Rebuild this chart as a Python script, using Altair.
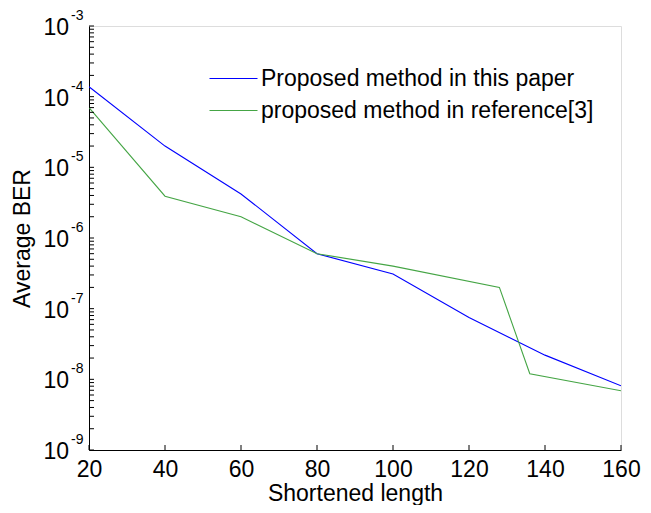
import altair as alt
import pandas as pd

# ---- data ----
x_blue = [20, 40, 60, 80, 100, 120, 140, 160]
ber_blue = [1.38e-4, 2.0e-5, 4.2e-6, 6.0e-7, 3.1e-7, 7.5e-8, 2.2e-8, 8.1e-9]
x_green = [20, 40, 60, 80, 100, 128, 136, 160]
ber_green = [7.0e-5, 3.9e-6, 2.0e-6, 6.0e-7, 4.0e-7, 2.0e-7, 1.2e-8, 6.9e-9]
series_names = ["Proposed method in this paper", "proposed method in reference[3]"]
series_colors = ["#0000FF", "#45A545"]

x_ticks = [20, 40, 60, 80, 100, 120, 140, 160]
y_exponents = [-3, -4, -5, -6, -7, -8, -9]
minor_mantissas = [2, 3, 4, 5, 6, 7, 8, 9]

FONT = "Liberation Sans, Arial, sans-serif"
W, H = 532, 424

df = pd.DataFrame(
    {"x": x_blue, "ber": ber_blue, "series": series_names[0]}
)
df = pd.concat(
    [df, pd.DataFrame({"x": x_green, "ber": ber_green, "series": series_names[1]})],
    ignore_index=True,
)

major_df = pd.DataFrame(
    {"ber": [10.0 ** e for e in y_exponents], "base": "10", "exp": [str(e) for e in y_exponents]}
)
minor_vals = [m * 10.0 ** e for e in y_exponents[1:] for m in minor_mantissas]
yticks_df = pd.DataFrame({"ber": [10.0 ** e for e in y_exponents] + minor_vals})
xticks_df = pd.DataFrame({"x": x_ticks})

xscale = alt.Scale(domain=[20, 160], nice=False, zero=False)
yscale = alt.Scale(type="log", domain=[1e-9, 1e-3], nice=False)

xaxis = alt.Axis(
    values=x_ticks, grid=False, ticks=False, tickSize=0, labelPadding=8,
    labelFlush=False, labelOverlap=False,
    labelFontSize=23, labelFont=FONT, labelColor="black",
    domainColor="black", domainWidth=1,
    titleFontSize=23, titleFont=FONT, titleFontWeight="normal", titleColor="black",
    titleX=W / 2, titleY=50, titleBaseline="alphabetic", titleAlign="center",
)
yaxis = alt.Axis(
    labels=False, grid=False, ticks=False, tickSize=0,
    domainColor="black", domainWidth=1,
    titleFontSize=23, titleFont=FONT, titleFontWeight="normal", titleColor="black",
    titleX=-60, titleY=H / 2, titleAngle=270, titleBaseline="alphabetic", titleAlign="center",
)

X = lambda: alt.X("x:Q", scale=xscale, axis=xaxis, title="Shortened length")
Y = lambda: alt.Y("ber:Q", scale=yscale, axis=yaxis, title="Average BER")

lines = alt.Chart(df).mark_line(strokeWidth=1.1, clip=True).encode(
    x=X(),
    y=Y(),
    color=alt.Color(
        "series:N",
        scale=alt.Scale(domain=series_names, range=series_colors),
        legend=alt.Legend(
            orient="none", legendX=133, legendY=41, title=None,
            symbolType="M-2.4,0L2.4,0", symbolSize=400, symbolStrokeWidth=1.1,
            labelFontSize=23, labelFont=FONT, labelColor="black", labelLimit=500,
            labelOffset=16, rowPadding=8, padding=0,
        ),
    ),
)

yticks = alt.Chart(yticks_df).mark_rule(color="black", strokeWidth=1).encode(
    y=Y(), x=alt.value(0), x2=alt.value(5)
)
xticks = alt.Chart(xticks_df).mark_rule(color="black", strokeWidth=1).encode(
    x=X(), y=alt.value(H), y2=alt.value(H - 5)
)
ylab_base = alt.Chart(major_df).mark_text(
    align="right", baseline="middle", fontSize=23, font=FONT, color="black", dy=2
).encode(y=Y(), x=alt.value(-20), text="base:N")
ylab_exp = alt.Chart(major_df).mark_text(
    align="left", baseline="middle", fontSize=14, font=FONT, color="black", dy=-10
).encode(y=Y(), x=alt.value(-18), text="exp:N")

chart = (
    alt.layer(lines, yticks, xticks, ylab_base, ylab_exp)
    .properties(
        width=W, height=H,
        autosize=alt.AutoSizeParams(type="none"),
        padding={"left": 81, "top": 18, "right": 22, "bottom": 55},
    )
    .configure_view(stroke=None)
    .configure(background="white")
)

chart.save("out.html", embed_options={"renderer": "svg", "actions": False})
